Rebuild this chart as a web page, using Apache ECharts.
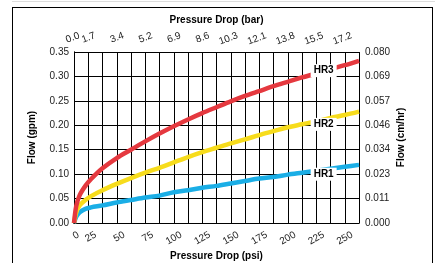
<!DOCTYPE html>
<html>
<head>
<meta charset="utf-8">
<script src="https://cdn.jsdelivr.net/npm/echarts@6/dist/echarts.min.js"></script>
<style>
  html, body { margin: 0; padding: 0; background: #fff; }
  #wrap { position: relative; width: 435px; height: 263px; overflow: hidden; }
  #chart { position: absolute; left: 0; top: 0; width: 435px; height: 263px; }
  .frame { position: absolute; left: 12px; top: 7px; width: 419px; height: 300px; border: 1px solid #000; pointer-events: none; }
  .topline { position: absolute; left: 12px; top: 1px; width: 423px; height: 1px; background: #ddd; }
</style>
</head>
<body>
<div id="wrap">
  <div class="topline"></div>
  <div class="frame"></div>
  <div id="chart"></div>
</div>
<script>
// pressure drop (psi) where the curves were read
const psi = [0, 2, 5, 10, 15, 25, 37.5, 50, 62.5, 75, 87.5, 100, 112.5, 125, 137.5, 150, 162.5, 175, 187.5, 200, 212.5, 225, 237.5, 250];
// flow (gpm)
const hr3 = [0, 0.035, 0.057, 0.076, 0.090, 0.112, 0.133, 0.150, 0.167, 0.183, 0.198, 0.212, 0.225, 0.237, 0.249, 0.260, 0.270, 0.280, 0.289, 0.298, 0.306, 0.315, 0.323, 0.332];
const hr2 = [0, 0.022, 0.036, 0.047, 0.055, 0.067, 0.080, 0.092, 0.103, 0.113, 0.124, 0.135, 0.145, 0.154, 0.163, 0.171, 0.180, 0.188, 0.196, 0.202, 0.208, 0.215, 0.221, 0.228];
const hr1 = [0, 0.013, 0.022, 0.029, 0.032, 0.036, 0.042, 0.047, 0.052, 0.056, 0.063, 0.067, 0.072, 0.076, 0.081, 0.086, 0.091, 0.094, 0.099, 0.103, 0.107, 0.111, 0.115, 0.119];

// tick labels (first one sits a little inside the plot, as in the original)
const psiLabels = ['0', '25', '50', '75', '100', '125', '150', '175', '200', '225', '250'];
const psiLabelAt = [10, 25, 50, 75, 100, 125, 150, 175, 200, 225, 250];
const barLabels = ['0.0', '1.7', '3.4', '5.2', '6.9', '8.6', '10.3', '12.1', '13.8', '15.5', '17.2'];
const barLabelAt = [11, 25, 50, 75, 100, 125, 150, 175, 200, 225, 250];
const gpmLabels = ['0.00', '0.05', '0.10', '0.15', '0.20', '0.25', '0.30', '0.35'];
const m3Labels = ['0.000', '0.011', '0.023', '0.034', '0.046', '0.057', '0.069', '0.080'];

const font = 'Liberation Sans, Arial, sans-serif';
const pair = (ys) => psi.map((x, i) => [x, ys[i]]);
const idxOf = (list, at, v) => { const i = at.indexOf(v); return i < 0 ? '' : list[i]; };
const nameStyle = { fontWeight: 'bold', fontSize: 10, color: '#000', fontFamily: font };

const tag = (name, x, y) => ({
  symbol: 'rect', symbolSize: 0, silent: true,
  data: [{ coord: [x, y] }],
  label: {
    show: true, position: 'inside', formatter: name, offset: [0, 3],
    color: '#000', fontWeight: 'bold', fontSize: 10, fontFamily: font,
    backgroundColor: '#fff', padding: [2, 3, 1, 3]
  }
});

const lineSeries = (name, ys, color, tagY) => ({
  name, type: 'line', data: pair(ys), smooth: 0.3, showSymbol: false,
  lineStyle: { color, width: 4.5 }, z: 3,
  markPoint: tag(name, 219, tagY)
});

const chart = echarts.init(document.getElementById('chart'));
chart.setOption({
  animation: false,
  grid: { left: 74, right: 76, top: 52, bottom: 40, outerBoundsMode: 'none' },
  xAxis: [
    {
      type: 'value', min: 0, max: 250, interval: 12.5, position: 'bottom',
      name: 'Pressure Drop (psi)', nameLocation: 'middle', nameGap: 28,
      nameMoveOverlap: false, nameTextStyle: nameStyle,
      axisLine: { lineStyle: { color: '#000', width: 1 } },
      axisTick: { show: false },
      splitLine: { show: true, lineStyle: { color: '#000', width: 1 } },
      axisLabel: {
        customValues: psiLabelAt, rotate: 30, margin: 7, padding: [0, 8, 0, 0],
        showMinLabel: true, showMaxLabel: true, hideOverlap: false,
        fontSize: 10, color: '#222', fontFamily: font,
        formatter: (v) => idxOf(psiLabels, psiLabelAt, v)
      }
    },
    {
      type: 'value', min: 0, max: 250, interval: 12.5, position: 'top',
      name: 'Pressure Drop (bar)', nameLocation: 'middle', nameGap: 27,
      nameMoveOverlap: false, nameTextStyle: nameStyle,
      axisLine: { show: true, lineStyle: { color: '#000', width: 1 } },
      axisTick: { show: false },
      splitLine: { show: false },
      axisLabel: {
        customValues: barLabelAt, rotate: 20, margin: 14,
        align: 'right', verticalAlign: 'bottom', padding: [0, 6, 0, 0],
        showMinLabel: true, showMaxLabel: true, hideOverlap: false,
        fontSize: 10, color: '#222', fontFamily: font,
        formatter: (v) => idxOf(barLabels, barLabelAt, v)
      }
    }
  ],
  yAxis: [
    {
      type: 'value', min: 0, max: 0.35, interval: 0.05, position: 'left',
      name: 'Flow (gpm)', nameLocation: 'middle', nameGap: 37, nameRotate: 90,
      nameMoveOverlap: false, nameTextStyle: nameStyle,
      axisLine: { show: true, lineStyle: { color: '#000', width: 1 } },
      axisTick: { show: false },
      splitLine: { show: true, lineStyle: { color: '#000', width: 1 } },
      axisLabel: {
        margin: 5, fontSize: 10, color: '#222', fontFamily: font,
        formatter: (v) => gpmLabels[Math.round(v / 0.05)]
      }
    },
    {
      type: 'value', min: 0, max: 0.35, interval: 0.05, position: 'right',
      name: 'Flow (cm/hr)', nameLocation: 'middle', nameGap: 37, nameRotate: 90,
      nameMoveOverlap: false, nameTextStyle: nameStyle,
      axisLine: { show: true, lineStyle: { color: '#000', width: 1 } },
      axisTick: { show: false },
      splitLine: { show: false },
      axisLabel: {
        margin: 6, fontSize: 10, color: '#222', fontFamily: font,
        formatter: (v) => m3Labels[Math.round(v / 0.05)]
      }
    }
  ],
  series: [
    lineSeries('HR1', hr1, '#1aaee6', 0.106),
    lineSeries('HR2', hr2, '#f7dc1c', 0.208),
    lineSeries('HR3', hr3, '#e5393f', 0.318)
  ]
});
</script>
</body>
</html>
